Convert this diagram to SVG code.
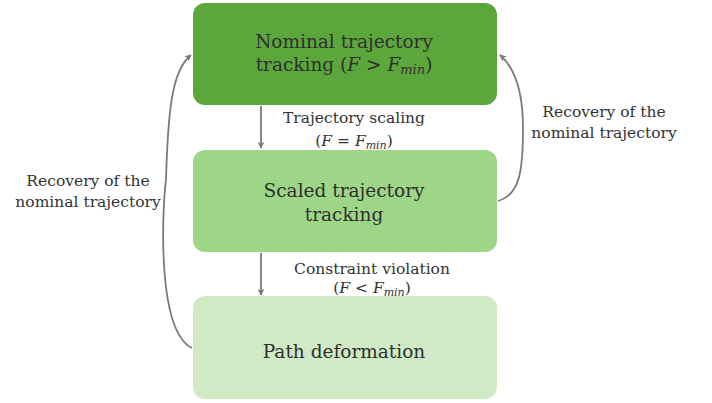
<svg xmlns="http://www.w3.org/2000/svg" width="712" height="403" viewBox="0 0 712 403">
<style>
text{font-family:'DejaVu Serif','Liberation Serif',serif}
.nt{font-size:18.5px;fill:#2f2f2f;text-anchor:middle}
.lbl{font-size:15.5px;fill:#333;text-anchor:middle}
.it{font-style:italic}
.edge{fill:none;stroke:#7a7a7a;stroke-width:1.8}
</style>
<defs>
<marker id="ah" viewBox="0 0 10 10" refX="9" refY="5" markerWidth="7" markerHeight="7" orient="auto" markerUnits="userSpaceOnUse">
<path d="M0,0 L10,5 L0,10 L3,5 Z" fill="#7a7a7a"/>
</marker>
</defs>
<rect width="712" height="403" fill="#fff"/>
<g id="n1">
<rect x="193" y="3" width="304" height="102" rx="12" fill="#5ba73c"/>
<text class="nt" x="344" y="48" font-family="DejaVu Serif, serif">Nominal trajectory</text>
<text class="nt" x="344" y="71" font-family="DejaVu Serif, serif">tracking (<tspan class="it">F</tspan> &gt; <tspan class="it">F</tspan><tspan class="it" font-size="13" dy="3">min</tspan><tspan dy="-3">)</tspan></text>
</g>
<g id="n2">
<rect x="193" y="150" width="304" height="102" rx="12" fill="#9dd687"/>
<text class="nt" x="344" y="197" font-family="DejaVu Serif, serif">Scaled trajectory</text>
<text class="nt" x="344" y="221" font-family="DejaVu Serif, serif">tracking</text>
</g>
<g id="n3">
<rect x="193" y="296" width="304" height="103" rx="12" fill="#cfeac4"/>
<text class="nt" x="344" y="358" font-family="DejaVu Serif, serif">Path deformation</text>
</g>
<g id="edges">
<line class="edge" x1="261" y1="106" x2="261" y2="148" marker-end="url(#ah)"/>
<line class="edge" x1="261" y1="253" x2="261" y2="295" marker-end="url(#ah)"/>
<path class="edge" d="M192,348 C155,330 163,200 166,180 C168,110 172,70 191,55" marker-end="url(#ah)"/>
<path class="edge" d="M498,201 C520,195 523,170 523,128 C523,90 515,68 500,55" marker-end="url(#ah)"/>
<text class="lbl" x="354" y="123" font-family="DejaVu Serif, serif">Trajectory scaling</text>
<text class="lbl" x="354" y="146" font-family="DejaVu Serif, serif">(<tspan class="it">F</tspan> = <tspan class="it">F</tspan><tspan class="it" font-size="11" dy="3">min</tspan><tspan dy="-3">)</tspan></text>
<text class="lbl" x="372" y="274" font-family="DejaVu Serif, serif">Constraint violation</text>
<text class="lbl" x="372" y="293" font-family="DejaVu Serif, serif">(<tspan class="it">F</tspan> &lt; <tspan class="it">F</tspan><tspan class="it" font-size="11" dy="3">min</tspan><tspan dy="-3">)</tspan></text>
<text class="lbl" x="88" y="186" font-family="DejaVu Serif, serif">Recovery of the</text>
<text class="lbl" x="88" y="207" font-family="DejaVu Serif, serif">nominal trajectory</text>
<text class="lbl" x="604" y="117" font-family="DejaVu Serif, serif">Recovery of the</text>
<text class="lbl" x="604" y="138" font-family="DejaVu Serif, serif">nominal trajectory</text>
</g>
</svg>
